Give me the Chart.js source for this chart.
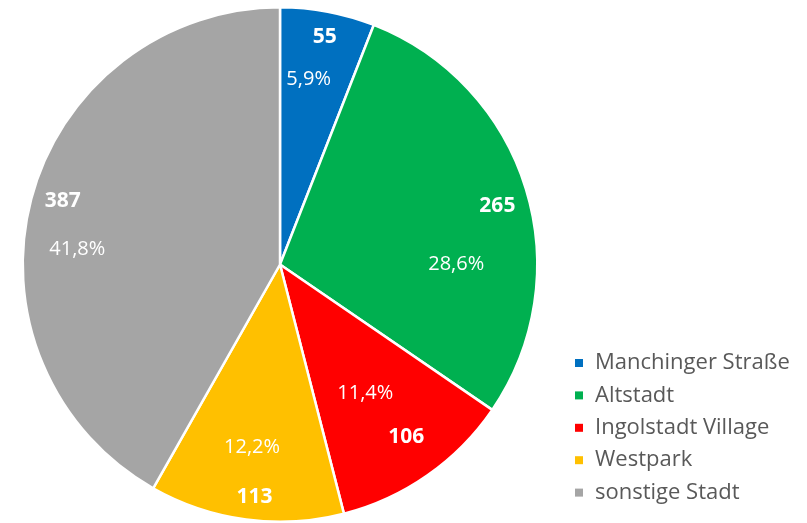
<!DOCTYPE html>
<html>
<head>
<meta charset="utf-8">
<script src="https://cdn.jsdelivr.net/npm/chart.js@4"></script>
<style>
  html, body { margin: 0; padding: 0; background: #fff; }
  #wrap { width: 807px; height: 523px; }
</style>
</head>
<body>
<div id="wrap"><canvas id="pie" width="807" height="523"></canvas></div>
<script>
const labels = ['Manchinger Straße', 'Altstadt', 'Ingolstadt Village', 'Westpark', 'sonstige Stadt'];
const values = [55, 265, 106, 113, 387];
const percents = ['5,9%', '28,6%', '11,4%', '12,2%', '41,8%'];
const colors = ['#0070C0', '#00B050', '#FF0000', '#FFC000', '#A5A5A5'];

// where inside each slice the two labels sit: t = share of the slice angle, f = share of the radius
const placement = [
    { vt: 0.52, vf: 0.90, pt: 0.41, pf: 0.73 },
    { vt: 0.52, vf: 0.875, pt: 0.665, pf: 0.685 },
    { vt: 0.47, vf: 0.83, pt: 0.535, pf: 0.60 },
    { vt: 0.47, vf: 0.91, pt: 0.525, pf: 0.72 },
    { vt: 0.51, vf: 0.88, pt: 0.43, pf: 0.79 }
];

const sliceLabels = {
    id: 'sliceLabels',
    afterDatasetsDraw(chart) {
        const ctx = chart.ctx;
        const meta = chart.getDatasetMeta(0);
        ctx.save();
        ctx.fillStyle = '#fff';
        ctx.textAlign = 'center';
        ctx.textBaseline = 'middle';
        meta.data.forEach((arc, i) => {
            const p = placement[i];
            const span = arc.endAngle - arc.startAngle;
            const av = arc.startAngle + span * p.vt;
            const ap = arc.startAngle + span * p.pt;
            ctx.font = "bold 21px 'Open Sans'";
            ctx.fillText(String(values[i]), arc.x + Math.cos(av) * arc.outerRadius * p.vf, arc.y + Math.sin(av) * arc.outerRadius * p.vf);
            ctx.font = "20px 'Open Sans'";
            ctx.fillText(percents[i], arc.x + Math.cos(ap) * arc.outerRadius * p.pf, arc.y + Math.sin(ap) * arc.outerRadius * p.pf);
        });
        ctx.restore();
    }
};

const sideLegend = {
    id: 'sideLegend',
    afterDraw(chart) {
        const ctx = chart.ctx;
        ctx.save();
        ctx.font = "22px 'Open Sans'";
        ctx.textBaseline = 'middle';
        labels.forEach((l, i) => {
            const y = 363 + i * 32.4;
            ctx.fillStyle = colors[i];
            ctx.fillRect(575, y - 4, 8, 8);
            ctx.fillStyle = '#595959';
            ctx.fillText(l, 595, y);
        });
        ctx.restore();
    }
};

new Chart(document.getElementById('pie'), {
    type: 'pie',
    data: {
        labels: labels,
        datasets: [{
            data: values,
            backgroundColor: colors,
            borderColor: '#fff',
            borderWidth: 2.5
        }]
    },
    options: {
        responsive: false,
        animation: false,
        layout: { padding: { left: 21, top: 6, right: 268, bottom: 0 } },
        plugins: {
            legend: { display: false },
            tooltip: { enabled: false }
        }
    },
    plugins: [sliceLabels, sideLegend]
});
</script>
</body>
</html>
